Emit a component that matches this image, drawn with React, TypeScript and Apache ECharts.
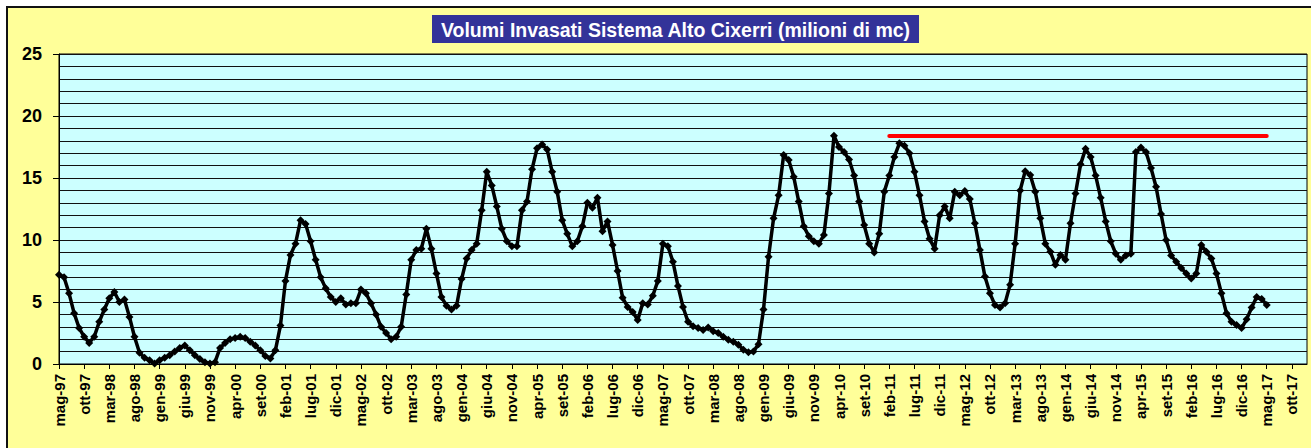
import React, { useEffect, useRef } from 'react';
import * as echarts from 'echarts';

const TITLE = 'Volumi Invasati Sistema Alto Cixerri (milioni di mc)';

// Category labels: monthly, from mag-97 to gen-18 (axis extends past last data point)
const MONTHS = ['gen', 'feb', 'mar', 'apr', 'mag', 'giu', 'lug', 'ago', 'set', 'ott', 'nov', 'dic'];
const START_MONTH = 4; // mag
const START_YEAR = 1997;
const N_CATEGORIES = 249;
const categories: string[] = Array.from({ length: N_CATEGORIES }, (_, k) => {
  const m = (START_MONTH + k) % 12;
  const y = START_YEAR + Math.floor((START_MONTH + k) / 12);
  return `${MONTHS[m]}-${String(y % 100).padStart(2, '0')}`;
});

// Monthly stored volumes (milioni di mc)
const v1997 = [7.2, 7.0, 5.7, 4.1, 2.9, 2.2, 1.7, 2.2]; // mag-dic
const v1998 = [3.4, 4.4, 5.3, 5.8, 5.0, 5.2, 3.8, 2.2, 0.9, 0.5, 0.3, 0.05];
const v1999 = [0.3, 0.5, 0.7, 1.0, 1.3, 1.5, 1.1, 0.7, 0.4, 0.15, 0.05, 0.15];
const v2000 = [1.3, 1.7, 2.0, 2.1, 2.2, 2.1, 1.8, 1.5, 1.1, 0.65, 0.45, 1.1];
const v2001 = [3.1, 6.7, 8.8, 9.7, 11.6, 11.3, 9.9, 8.4, 7.0, 6.1, 5.4, 5.0];
const v2002 = [5.3, 4.8, 4.9, 4.9, 6.0, 5.7, 4.9, 4.0, 3.0, 2.5, 2.0, 2.2];
const v2003 = [3.0, 5.6, 8.4, 9.2, 9.3, 10.9, 9.3, 7.3, 5.4, 4.7, 4.4, 4.7];
const v2004 = [6.85, 8.5, 9.2, 9.7, 12.4, 15.5, 14.4, 12.7, 10.9, 9.9, 9.5, 9.5];
const v2005 = [12.4, 13.1, 15.7, 17.4, 17.7, 17.3, 15.5, 13.9, 11.6, 10.5, 9.5, 9.9];
const v2006 = [11.1, 13.0, 12.6, 13.4, 10.7, 11.5, 9.6, 7.5, 5.35, 4.6, 4.2, 3.55];
const v2007 = [4.9, 4.8, 5.5, 6.7, 9.7, 9.5, 8.25, 6.3, 4.6, 3.4, 3.05, 2.9];
const v2008 = [2.75, 2.95, 2.65, 2.5, 2.2, 1.95, 1.8, 1.55, 1.15, 0.95, 1.0, 1.6];
const v2009 = [4.4, 8.65, 11.75, 13.6, 16.85, 16.45, 15.1, 13.1, 11.1, 10.3, 9.9, 9.7];
const v2010 = [10.4, 13.75, 18.4, 17.5, 17.1, 16.5, 15.2, 13.1, 11.2, 9.7, 9.0, 10.5];
const v2011 = [13.9, 15.2, 16.7, 17.8, 17.6, 17.0, 15.5, 13.6, 11.5, 10.1, 9.3, 12.0];
const v2012 = [12.7, 11.75, 13.9, 13.6, 13.95, 13.3, 11.35, 9.2, 7.05, 5.7, 4.75, 4.55];
const v2013 = [4.9, 6.4, 9.7, 14.0, 15.55, 15.25, 13.9, 11.75, 9.7, 9.05, 8.0, 8.8];
const v2014 = [8.4, 11.35, 13.75, 16.1, 17.35, 16.7, 15.2, 13.4, 11.5, 9.9, 8.9, 8.4];
const v2015 = [8.75, 8.9, 17.1, 17.45, 17.1, 15.8, 14.3, 12.1, 10.0, 8.75, 8.25, 7.75];
const v2016 = [7.3, 6.9, 7.3, 9.6, 9.05, 8.5, 7.3, 5.7, 4.1, 3.4, 3.15, 2.9];
const v2017 = [3.6, 4.55, 5.4, 5.25, 4.75]; // gen-mag

const volumes = [
  ...v1997, ...v1998, ...v1999, ...v2000, ...v2001, ...v2002, ...v2003,
  ...v2004, ...v2005, ...v2006, ...v2007, ...v2008, ...v2009, ...v2010,
  ...v2011, ...v2012, ...v2013, ...v2014, ...v2015, ...v2016, ...v2017,
];

// Red reference line
const RED_START = 'feb-11';
const RED_END = 'mag-17';
const RED_VALUE = 18.4;

const FONT = '"Liberation Sans", Arial, sans-serif';

export default function App() {
  const ref = useRef<HTMLDivElement>(null);

  useEffect(() => {
    const chart = echarts.init(ref.current!, null, { renderer: 'svg' });
    chart.setOption({
      animation: false,
      backgroundColor: 'transparent',
      graphic: [
        {
          type: 'rect',
          shape: { x: 432, y: 15, width: 487, height: 28 },
          style: { fill: '#333399' },
        },
        {
          type: 'text',
          x: 675.5,
          y: 29.5,
          style: {
            text: TITLE,
            fill: '#ffffff',
            font: `bold 19.5px ${FONT}`,
            align: 'center',
            verticalAlign: 'middle',
          },
        },
      ],
      grid: {
        left: 59,
        top: 54,
        width: 1248,
        height: 310,
        show: true,
        backgroundColor: '#CCFFFF',
        borderColor: '#000',
        borderWidth: 1,
      },
      xAxis: {
        type: 'category',
        data: categories,
        boundaryGap: false,
        axisLine: { show: true, lineStyle: { color: '#000', width: 1 } },
        axisTick: { show: true, interval: 4, length: 5, lineStyle: { color: '#000' } },
        axisLabel: {
          interval: 4,
          rotate: 90,
          fontSize: 15,
          fontWeight: 'bold',
          fontFamily: FONT,
          color: '#000',
          margin: 10,
        },
        splitLine: { show: false },
      },
      yAxis: {
        type: 'value',
        min: 0,
        max: 25,
        interval: 5,
        axisLine: { show: true, lineStyle: { color: '#000', width: 1 } },
        axisTick: { show: true, length: 6, lineStyle: { color: '#000' } },
        axisLabel: {
          fontSize: 18,
          fontWeight: 'bold',
          fontFamily: FONT,
          color: '#000',
          margin: 17,
        },
        splitLine: { show: true, lineStyle: { color: '#111', width: 1.2 } },
        minorTick: { show: false, splitNumber: 5 },
        minorSplitLine: { show: true, lineStyle: { color: '#111', width: 1.2 } },
      },
      series: [
        {
          type: 'line',
          data: volumes,
          symbol: 'diamond',
          symbolSize: 8,
          showAllSymbol: true,
          lineStyle: { color: '#000', width: 3.5 },
          itemStyle: { color: '#000' },
          emphasis: { disabled: true },
          markLine: {
            silent: true,
            symbol: ['none', 'none'],
            label: { show: false },
            lineStyle: { color: '#ff0000', width: 4, type: 'solid', cap: 'round' },
            data: [[{ coord: [RED_START, RED_VALUE] }, { coord: [RED_END, RED_VALUE] }]],
          },
        },
      ],
    });
    return () => chart.dispose();
  }, []);

  return (
    <div style={{ position: 'fixed', left: 0, top: 0, width: 1311, height: 448, background: '#fff', overflow: 'hidden' }}>
      <div
        style={{
          position: 'absolute',
          left: 6,
          top: 6,
          width: 1320,
          height: 460,
          background: '#FFFF99',
          border: '2px solid #111',
        }}
      />
      <div ref={ref} style={{ position: 'absolute', left: 0, top: 0, width: 1311, height: 448 }} />
    </div>
  );
}
